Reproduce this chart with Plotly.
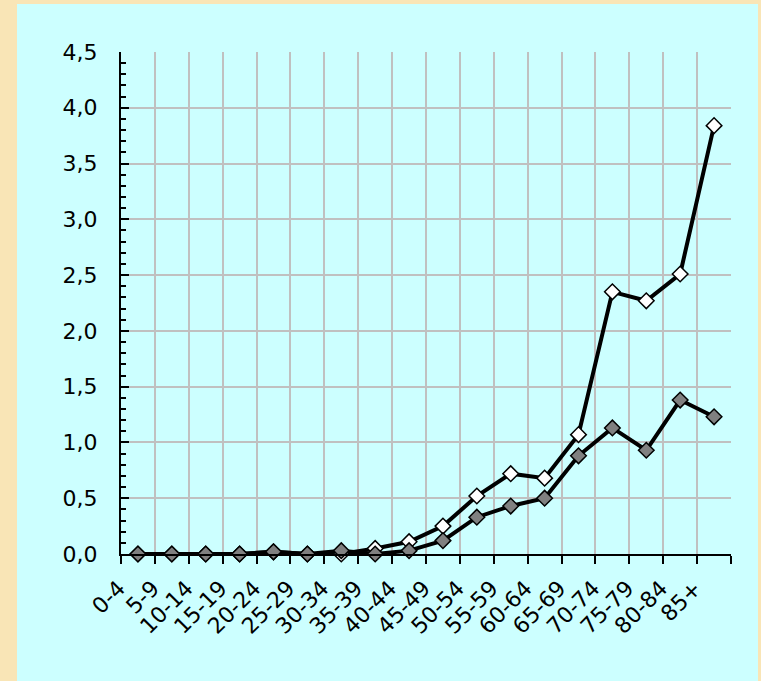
import plotly.graph_objects as go

categories = ["0-4", "5-9", "10-14", "15-19", "20-24", "25-29", "30-34", "35-39",
              "40-44", "45-49", "50-54", "55-59", "60-64", "65-69", "70-74",
              "75-79", "80-84", "85+"]
series_white = [0.0, 0.0, 0.0, 0.0, 0.02, 0.0, 0.0, 0.05, 0.11, 0.25, 0.52, 0.72,
                0.68, 1.07, 2.35, 2.27, 2.51, 3.84]
series_gray = [0.0, 0.0, 0.0, 0.0, 0.02, 0.0, 0.03, 0.0, 0.03, 0.12, 0.33, 0.43,
               0.50, 0.88, 1.13, 0.93, 1.38, 1.23]
y_ticks = [0.0, 0.5, 1.0, 1.5, 2.0, 2.5, 3.0, 3.5, 4.0, 4.5]

W, H = 761, 681
ML, MR, MT, MB = 121, 30, 52, 127
pw, ph = W - ML - MR, H - MT - MB

def px_x(x):
    return (x - ML) / pw

def px_y(y):
    return (H - MB - y) / ph

fig = go.Figure()
fig.add_trace(go.Scatter(
    x=categories, y=series_white, mode="lines+markers",
    line=dict(color="black", width=4),
    marker=dict(symbol="diamond", size=12, color="white",
                line=dict(color="black", width=1.5)),
    showlegend=False, cliponaxis=False))
fig.add_trace(go.Scatter(
    x=categories, y=series_gray, mode="lines+markers",
    line=dict(color="black", width=4),
    marker=dict(symbol="diamond", size=12, color="#808080",
                line=dict(color="black", width=1.5)),
    showlegend=False, cliponaxis=False))

fig.add_shape(type="rect", xref="paper", yref="paper",
              x0=px_x(17), x1=px_x(758), y0=px_y(684), y1=px_y(4),
              fillcolor="#CCFFFF", line=dict(width=0), layer="below")

font_family = "DejaVu Sans, Liberation Sans, Arial, sans-serif"
fig.update_layout(
    width=W, height=H,
    margin=dict(l=ML, r=MR, t=MT, b=MB),
    paper_bgcolor="#F9E5B6",
    plot_bgcolor="rgba(0,0,0,0)",
    separators=",.",
    font=dict(family=font_family, color="black", size=22),
    xaxis=dict(
        type="category", tickson="boundaries",
        showline=True, linecolor="black", linewidth=1.5,
        ticks="outside", ticklen=8, tickwidth=2, tickcolor="black",
        showgrid=True, gridcolor="#C0C0C0", gridwidth=2,
        tickangle=-45, tickfont=dict(size=22),
        ticklabelstandoff=11, ticklabelshift=-19,
        range=[-0.5, len(categories) - 0.5],
    ),
    yaxis=dict(
        range=[0, 4.5], tickvals=y_ticks, tickformat=".1f",
        showline=True, linecolor="black", linewidth=2,
        ticks="inside", ticklen=8, tickwidth=2, tickcolor="black",
        minor=dict(dtick=0.1, ticks="inside", ticklen=5, tickwidth=2,
                   tickcolor="black", showgrid=False),
        showgrid=True, gridcolor="#C0C0C0", gridwidth=2,
        zeroline=False, tickfont=dict(size=22),
        ticklabelstandoff=17,
    ),
)

fig.write_html("out.html")
